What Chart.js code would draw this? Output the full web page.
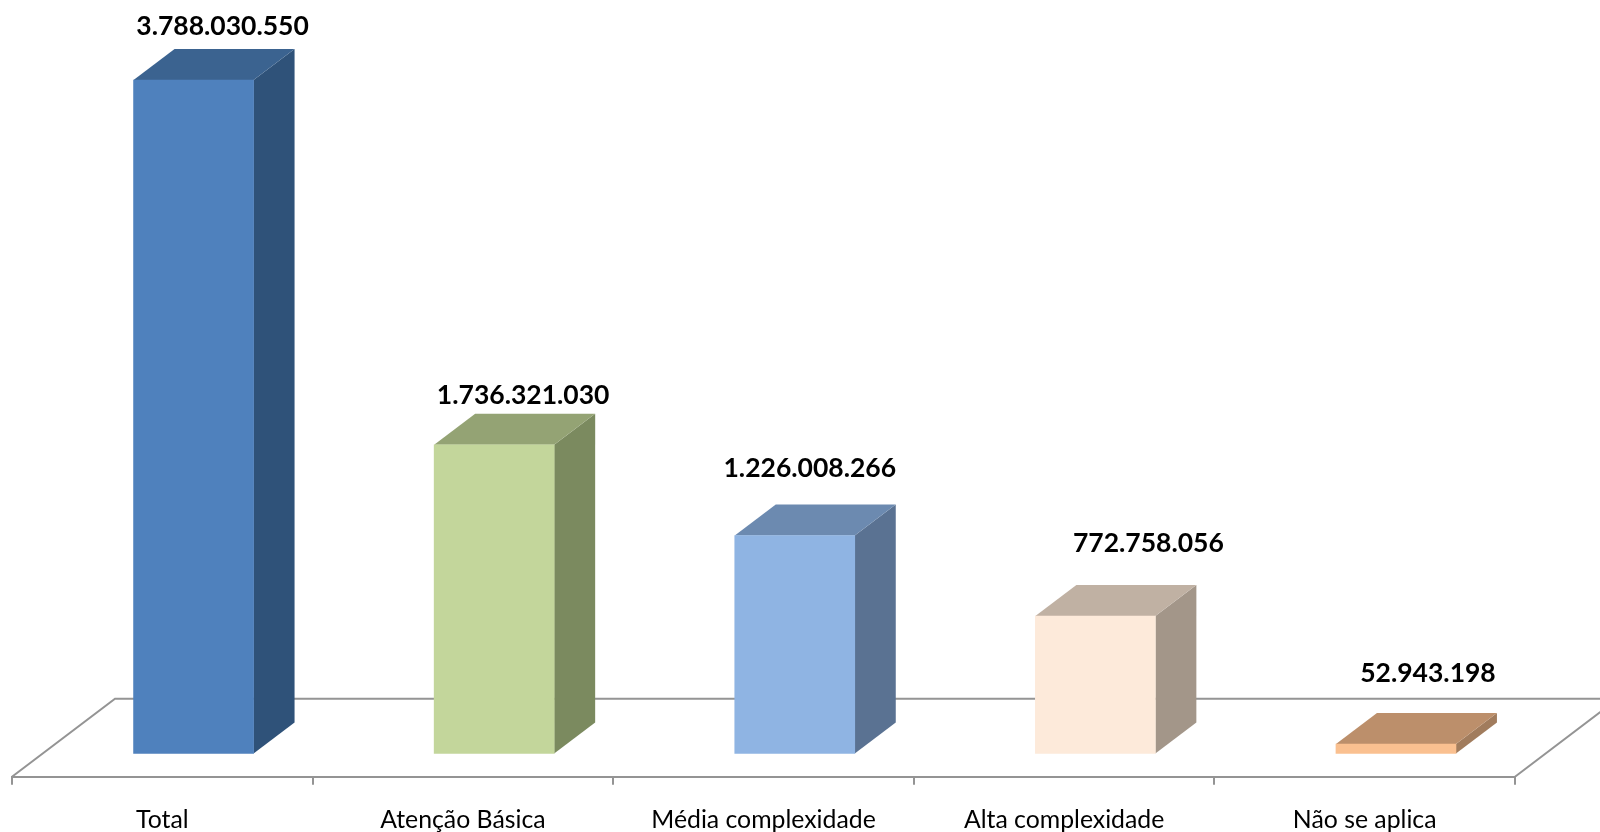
<!DOCTYPE html>
<html lang="pt-BR">
<head>
<meta charset="utf-8">
<title>Atenção à saúde</title>
<script src="https://cdn.jsdelivr.net/npm/chart.js@4/dist/chart.umd.min.js"></script>
<style>
    html, body { margin: 0; padding: 0; background: #fff; }
    canvas { display: block; }
</style>
</head>
<body>
<canvas id="current-chart" width="1600" height="832"></canvas>
<script>
const categories = ["Total", "Atenção Básica", "Média complexidade", "Alta complexidade", "Não se aplica"];
const seriesValues = [3788030550, 1736321030, 1226008266, 772758056, 52943198];

const frontColors = ["#4F81BD", "#C3D69B", "#8FB4E3", "#FDEADA", "#FAC090"];
const sideColors = ["#2F5279", "#7B8A5F", "#5A7292", "#A39689", "#A17C5D"];
const topColors = ["#3B6390", "#94A374", "#6C8AB0", "#C0B1A3", "#BC8F6B"];

// value labels were nudged by hand, so each one keeps its own offset from the bar's top centre
const labelShiftX = [29, 29, 15, 53, 32];
const labelShiftY = [-54, -49, -67, -73, -71];

const AXIS_COLOR = "#949494";
const AXIS_HEIGHT = 55.3;
const BAR_DEPTH_X = 41;
const BAR_DEPTH_Y = 31;
const FLOOR_DEPTH_X = 103;
const FLOOR_DEPTH_Y = 78;

function formatValue(value) {
    return String(value).replace(/\B(?=(\d{3})+$)/g, ".");
}

function fillFace(ctx, color, points) {
    ctx.fillStyle = color;
    ctx.beginPath();
    points.forEach(([x, y], i) => i === 0 ? ctx.moveTo(x, y) : ctx.lineTo(x, y));
    ctx.closePath();
    ctx.fill();
}

/* =============================================================================
FLOOR AND BAR DEPTH
============================================================================= */

const floorPlugin = {
    id: "floor",
    beforeDatasetsDraw(chart) {
        const { ctx, chartArea, scales } = chart;
        const left = scales.x.left;
        const right = scales.x.right;
        const front = chartArea.bottom;
        const back = front - FLOOR_DEPTH_Y;

        ctx.save();
        ctx.strokeStyle = AXIS_COLOR;
        ctx.lineWidth = 2;
        ctx.beginPath();
        ctx.moveTo(left, front);
        ctx.lineTo(left + FLOOR_DEPTH_X, back);
        ctx.lineTo(right + FLOOR_DEPTH_X, back);
        ctx.lineTo(right, front);
        ctx.stroke();
        ctx.restore();
    }
};

const depthPlugin = {
    id: "barDepth",
    beforeDatasetsDraw(chart) {
        const { ctx } = chart;
        chart.getDatasetMeta(0).data.forEach((bar, i) => {
            const x0 = bar.x - bar.width / 2;
            const x1 = bar.x + bar.width / 2;
            const dx = BAR_DEPTH_X;
            const dy = BAR_DEPTH_Y;

            fillFace(ctx, sideColors[i], [[x1, bar.y], [x1 + dx, bar.y - dy], [x1 + dx, bar.base - dy], [x1, bar.base]]);
            fillFace(ctx, topColors[i], [[x0, bar.y], [x0 + dx, bar.y - dy], [x1 + dx, bar.y - dy], [x1, bar.y]]);
        });
    }
};

const valueLabelPlugin = {
    id: "valueLabels",
    afterDatasetsDraw(chart) {
        const { ctx } = chart;
        ctx.save();
        ctx.font = "bold 26.5px Lato";
        ctx.fillStyle = "#000";
        ctx.textAlign = "center";
        ctx.textBaseline = "middle";
        chart.getDatasetMeta(0).data.forEach((bar, i) => {
            ctx.fillText(formatValue(seriesValues[i]), bar.x + labelShiftX[i], bar.y + labelShiftY[i]);
        });
        ctx.restore();
    }
};

/* =============================================================================
CHART
============================================================================= */

// the bars stand a little behind the front edge of the floor, hence the shifted range on xBars
const BAR_SHIFT = 0.104;

new Chart(document.getElementById("current-chart").getContext("2d"), {
    type: "bar",
    data: {
        labels: categories,
        datasets: [{
            data: seriesValues.map((value, i) => ({ x: i, y: value })),
            backgroundColor: frontColors,
            borderWidth: 0,
            barThickness: 120,
            xAxisID: "xBars",
            yAxisID: "y"
        }]
    },
    options: {
        responsive: false,
        animation: false,
        layout: {
            padding: { left: 12, right: 85, top: 0, bottom: 0 }
        },
        plugins: {
            legend: { display: false },
            tooltip: { enabled: false }
        },
        scales: {
            x: {
                type: "category",
                labels: categories,
                offset: true,
                afterFit(scale) {
                    scale.height = AXIS_HEIGHT;
                },
                grid: {
                    offset: true,
                    drawOnChartArea: false,
                    color: AXIS_COLOR,
                    lineWidth: 2,
                    tickLength: 8
                },
                border: { color: AXIS_COLOR, width: 2 },
                ticks: {
                    color: "#000",
                    padding: 20,
                    maxRotation: 0,
                    autoSkip: false,
                    font: { family: "Lato", size: 24.8 }
                }
            },
            xBars: {
                type: "linear",
                axis: "x",
                display: false,
                offset: false,
                min: -0.5 - BAR_SHIFT,
                max: 4.5 - BAR_SHIFT
            },
            y: {
                display: false,
                min: -130500000,
                max: 4238000000
            }
        }
    },
    plugins: [floorPlugin, depthPlugin, valueLabelPlugin]
});
</script>
</body>
</html>
